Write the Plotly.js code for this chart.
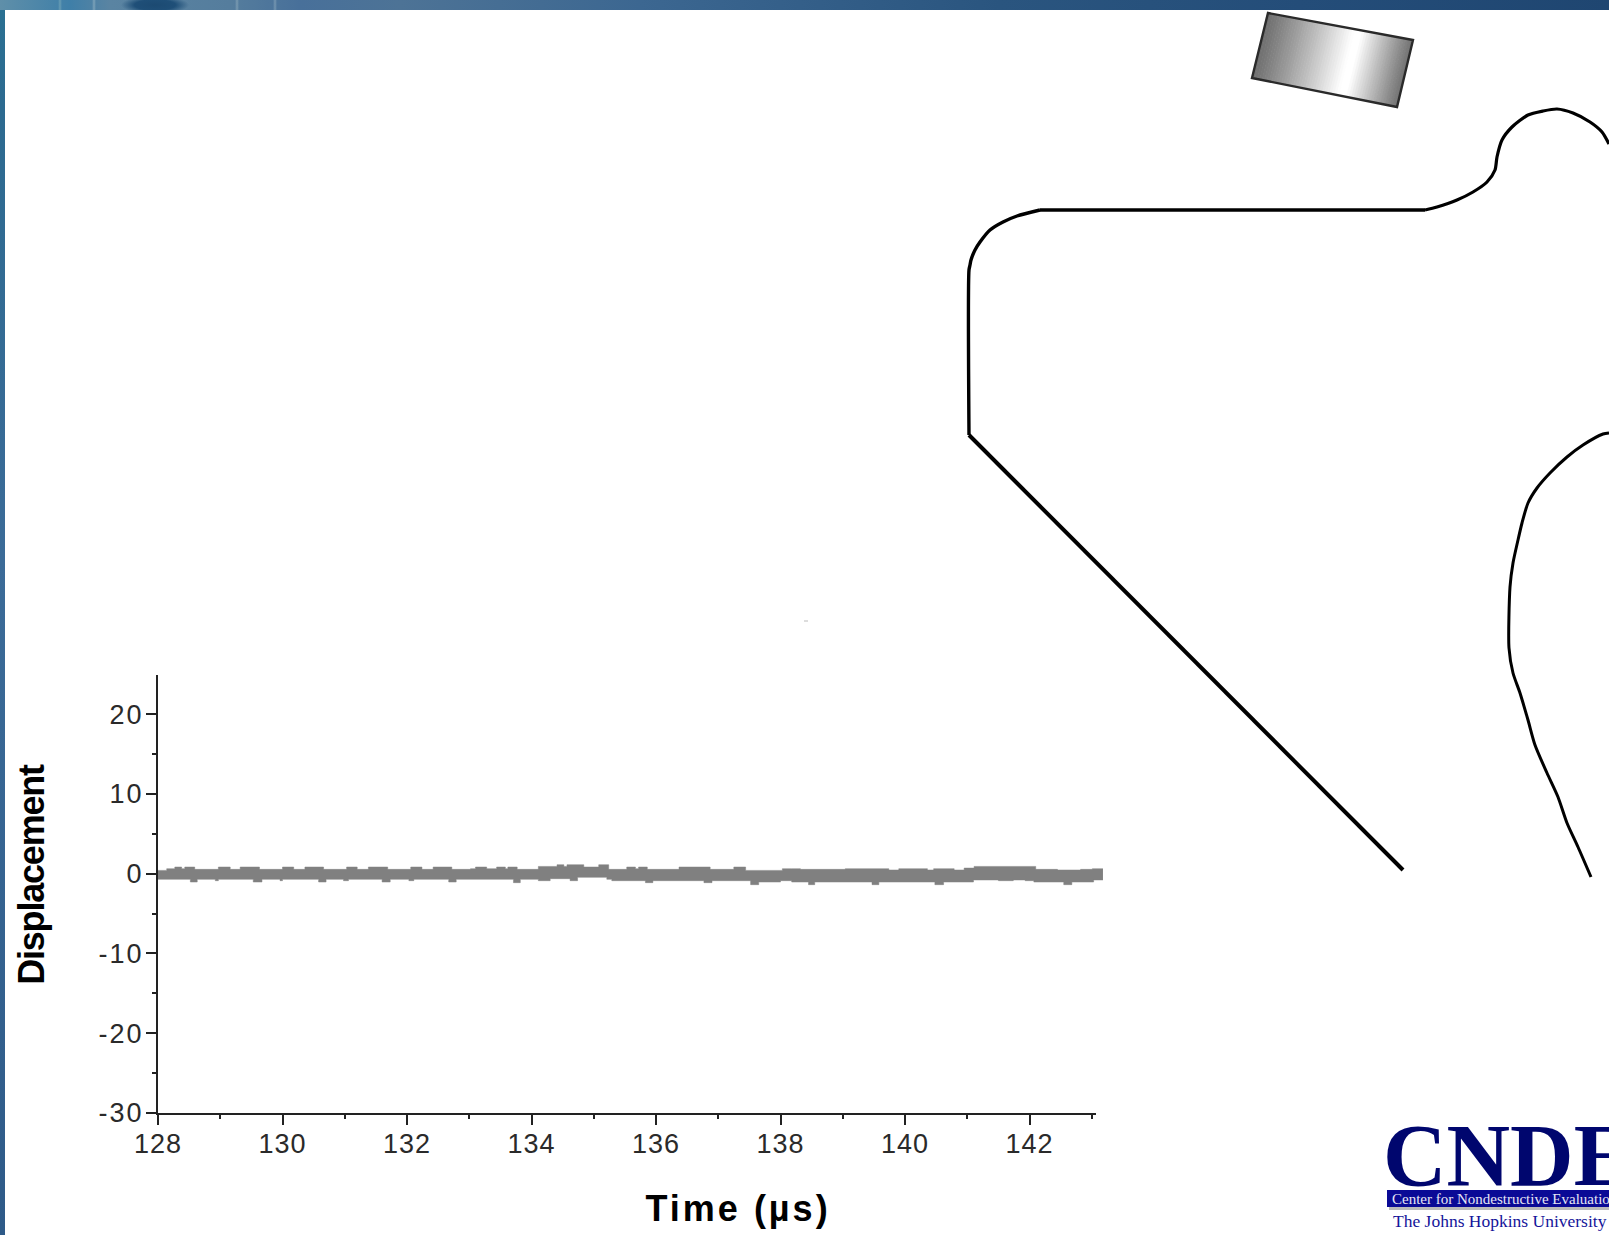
<!DOCTYPE html>
<html><head><meta charset="utf-8">
<script src="https://cdn.plot.ly/plotly-3.0.1.min.js"></script>
<style>
html,body{margin:0;padding:0;width:1609px;height:1235px;overflow:hidden;background:#fff}
#frame{position:absolute;left:0;top:0;width:1609px;height:1235px;
 background:
  radial-gradient(ellipse 34px 9px at 155px 5px,#1c4a72 0%,#1f4f78 60%,rgba(40,90,125,0) 100%),
  linear-gradient(90deg,rgba(255,255,255,0) 58px,rgba(170,205,200,.35) 60px,rgba(255,255,255,0) 62px,rgba(255,255,255,0) 92px,rgba(190,210,215,.4) 94px,rgba(255,255,255,0) 96px,rgba(255,255,255,0) 235px,rgba(190,210,215,.35) 237px,rgba(255,255,255,0) 239px,rgba(255,255,255,0) 273px,rgba(190,210,215,.35) 275px,rgba(255,255,255,0) 277px),
  linear-gradient(90deg,#5f8fa9 0,#3f7fa8 70px,#5a84a2 110px,#557d9d 230px,#48709a 300px,#4d7396 400px,#3c6791 640px,#2a557f 1000px,#244d79 1300px,#1f4671 1609px);
}
#white{position:absolute;left:5px;top:10px;width:1604px;height:1225px;background:#fff}
#left{position:absolute;left:0;top:10px;width:5px;height:1225px;background:linear-gradient(180deg,#2a7092 0,#2c6a90 8%,#3b6b98 45%,#2e5a88 100%)}
#chart{position:absolute;left:0;top:0;width:1609px;height:1235px}
.xtick text{letter-spacing:1px}
.ytick text{letter-spacing:2px}
.annotation[data-index="0"] text{letter-spacing:-1.2px}
.annotation[data-index="1"] text{letter-spacing:3px}
</style></head>
<body>
<div id="frame"></div><div id="white"></div><div id="left"></div><div id="chart"></div>
<script>
// Displacement trace, drawn as an upper and a lower stepped edge
const upperTime=[128.00,128.14,128.27,128.38,128.43,128.59,128.97,129.16,129.32,129.63,130.00,130.18,130.36,130.66,131.03,131.20,131.38,131.69,132.06,132.24,132.42,132.72,133.02,133.10,133.28,133.44,133.58,133.62,133.77,134.11,134.41,134.52,134.57,134.84,135.08,135.24,135.53,135.67,135.72,135.86,136.37,136.87,137.25,137.44,138.03,138.18,138.32,139.04,139.74,139.90,140.36,140.46,140.79,140.95,141.11,142.10,142.45,142.82,143.01,143.18];
const upperDisp=[.41,.62,.83,.62,.83,.54,.83,.54,.83,.54,.83,.54,.83,.54,.83,.54,.83,.54,.83,.54,.83,.54,.62,.83,.62,.83,.62,.83,.54,.91,1.12,.91,1.12,.83,1.12,.54,.83,.62,.83,.54,.83,.54,.83,.41,.62,.62,.54,.62,.46,.62,.46,.62,.46,.70,.91,.54,.46,.54,.62,.62];
const lowerTime=[128.00,128.52,128.63,128.92,128.97,129.53,129.67,129.96,130.00,130.58,130.70,130.98,131.06,131.60,131.73,132.03,132.11,132.67,132.79,133.71,133.82,134.11,134.30,134.62,134.74,135.21,135.29,135.83,135.95,136.77,136.90,137.52,137.65,138.00,138.18,138.45,138.55,139.47,139.58,140.48,140.62,141.10,141.50,141.74,141.93,142.07,142.55,142.68,143.03,143.18];
const lowerDisp=[-.71,-1.05,-.71,-.88,-.71,-1.05,-.71,-.88,-.71,-1.05,-.71,-.88,-.71,-1.05,-.71,-.88,-.71,-1.05,-.71,-1.13,-.71,-.88,-.63,-.88,-.46,-.71,-.88,-1.13,-.88,-1.13,-.88,-1.38,-1.05,-.88,-1.05,-1.38,-1.05,-1.38,-1.05,-1.38,-1.05,-.79,-.88,-.79,-.88,-1.05,-1.38,-1.05,-.79,-.79];
const xTickValues=[128,130,132,134,136,138,140,142];
const yTickValues=[-30,-20,-10,0,10,20];
const xTitle='Time (µs)', yTitle='Displacement';

// Specimen outline, in page pixels
const cornerX=[969,969,970,971,975,980,990,1003,1017,1040];
const cornerY=[435,270,265,260,250,242,230,222,216,210];
const flatX=[1040,1425], flatY=[210,210];
const bulbX=[1425,1437,1457,1473,1487,1495,1497,1502,1512,1528,1543,1557,1573,1590,1602,1609];
const bulbY=[210,207,200,192,182,170,157,140,127,115,111,109,113,122,132,144];
const diagX=[969,1403], diagY=[435,870];
const lowerX=[1609,1603,1583,1567,1550,1537,1528,1522,1518,1513,1510,1509,1513,1520,1528,1535,1547,1558,1567,1578,1591];
const lowerY=[433,434,445,457,473,488,503,523,540,563,587,648,673,693,720,745,773,797,823,847,877];
// Transducer block corners, in page pixels
const blockX=[1268,1413,1397,1252], blockY=[13,40,107,78];

const W=1609,H=1235,axL=158,axT=675,axB=1113,pxPerUs=62.25,tEnd=143.18;
const axR=axL+(tEnd-128)*pxPerUs, axisLineEnd=1096;
const outline=(x,y,w,smooth)=>({x,y,xaxis:'x2',yaxis:'y2',mode:'lines',line:{color:'#000',width:w,shape:smooth?'spline':'linear',smoothing:.7},hoverinfo:'skip',showlegend:false});
const traces=[
 {x:upperTime,y:upperDisp,mode:'lines',line:{shape:'hv',color:'#808080',width:.5},hoverinfo:'skip',showlegend:false},
 {x:lowerTime,y:lowerDisp,mode:'lines',line:{shape:'hv',color:'#808080',width:.5},fill:'tonexty',fillcolor:'#808080',hoverinfo:'skip',showlegend:false},
 outline(cornerX,cornerY,3.4,true),
 outline(flatX,flatY,3.4,false),
 outline(bulbX,bulbY,3.2,true),
 outline(diagX,diagY,4,false),
 outline(lowerX,lowerY,3,true)
];
// Gradient on the block: strips along its long side
const shapes=[];
const N=60;
function shade(f){const g=f<.62?(f/.62):((1-f)/.38);const v=Math.round(112+143*Math.pow(Math.min(1,g*1.05),1.1));return `rgb(${v},${v},${v})`;}
for(let i=0;i<N;i++){
 const a=i/N,b=Math.min((i+1)/N+.004,1);
 const x0=blockX[0]+(blockX[1]-blockX[0])*a,y0=blockY[0]+(blockY[1]-blockY[0])*a;
 const x1=blockX[0]+(blockX[1]-blockX[0])*b,y1=blockY[0]+(blockY[1]-blockY[0])*b;
 const x2=blockX[3]+(blockX[2]-blockX[3])*b,y2=blockY[3]+(blockY[2]-blockY[3])*b;
 const x3=blockX[3]+(blockX[2]-blockX[3])*a,y3=blockY[3]+(blockY[2]-blockY[3])*a;
 shapes.push({type:'path',xref:'x2',yref:'y2',path:`M${x0},${y0}L${x1},${y1}L${x2},${y2}L${x3},${y3}Z`,fillcolor:shade(a),line:{width:0},layer:'below'});
}
shapes.push({type:'path',xref:'x2',yref:'y2',path:`M${blockX[0]},${blockY[0]}L${blockX[1]},${blockY[1]}L${blockX[2]},${blockY[2]}L${blockX[3]},${blockY[3]}Z`,line:{color:'#2a2a2a',width:2.4},layer:'above'});
// Logo bar and its shadow
shapes.push({type:'rect',xref:'x2',yref:'y2',x0:1389,x1:1609,y0:1192,y1:1210,fillcolor:'#bbbbbb',line:{width:0},layer:'below'});
shapes.push({type:'rect',xref:'x2',yref:'y2',x0:1387,x1:1609,y0:1190,y1:1207,fillcolor:'#0a0a96',line:{width:0},layer:'below'});
// Ends the axis line where the reference does, short of the trace's end
shapes.push({type:'rect',xref:'x2',yref:'y2',x0:axisLineEnd,x1:axR+2,y0:1110,y1:1117,fillcolor:'#fff',line:{width:0},layer:'above'});
// Small speck in the white area
shapes.push({type:'line',xref:'x2',yref:'y2',x0:804,x1:808,y0:621,y1:621,line:{color:'#bbbbbb',width:1},layer:'below'});

const annotations=[
 {xref:'x2',yref:'y2',x:31,y:875,text:yTitle,textangle:-90,showarrow:false,font:{family:'Liberation Sans',size:36,color:'#000',weight:'bold'},xanchor:'center',yanchor:'middle'},
 {xref:'x2',yref:'y2',x:738,y:1208,text:xTitle,showarrow:false,font:{family:'Liberation Sans',size:36,color:'#000',weight:'bold'},xanchor:'center',yanchor:'middle'},
 {xref:'x2',yref:'y2',x:1381,y:1155,text:'CNDE',showarrow:false,font:{family:'Liberation Serif',size:88,color:'#00066e',weight:'bold'},xanchor:'left',yanchor:'middle'},
 {xref:'x2',yref:'y2',x:1390,y:1198.5,text:'Center for Nondestructive Evaluation',showarrow:false,font:{family:'Liberation Serif',size:15,color:'#e6e6f5'},xanchor:'left',yanchor:'middle'},
 {xref:'x2',yref:'y2',x:1391,y:1221,text:'The Johns Hopkins University',showarrow:false,font:{family:'Liberation Serif',size:17.5,color:'#14149a'},xanchor:'left',yanchor:'middle'}
];
const axisFont={family:'Liberation Sans',size:27,color:'#2a2a2a'};
const layout={
 width:W,height:H,margin:{l:0,r:0,t:0,b:0},paper_bgcolor:'rgba(0,0,0,0)',plot_bgcolor:'rgba(0,0,0,0)',showlegend:false,
 xaxis:{domain:[axL/W,axR/W],range:[128,tEnd],anchor:'y',tickmode:'array',tickvals:xTickValues,ticktext:xTickValues.map(String),
  ticks:'outside',ticklen:10,tickwidth:2,tickcolor:'#222',showline:true,linecolor:'#222',linewidth:2,showgrid:false,zeroline:false,tickfont:axisFont,
  minor:{dtick:1,ticks:'outside',ticklen:4,tickwidth:2,tickcolor:'#222',showgrid:false},ticklabelstandoff:-4},
 yaxis:{domain:[1-axB/H,1-axT/H],range:[-30,24.9],anchor:'x',tickmode:'array',tickvals:yTickValues,ticktext:yTickValues.map(String),
  ticks:'outside',ticklen:10,tickwidth:2,tickcolor:'#222',showline:true,linecolor:'#222',linewidth:2,showgrid:false,zeroline:false,tickfont:axisFont,
  minor:{dtick:5,ticks:'outside',ticklen:4,tickwidth:2,tickcolor:'#222',showgrid:false},ticklabelstandoff:-3},
 xaxis2:{domain:[0,1],range:[0,W],visible:false,anchor:'y2',fixedrange:true},
 yaxis2:{domain:[0,1],range:[H,0],visible:false,anchor:'x2',fixedrange:true},
 shapes,annotations
};
Plotly.newPlot('chart',traces,layout,{displayModeBar:false,staticPlot:true});
</script>
</body></html>
